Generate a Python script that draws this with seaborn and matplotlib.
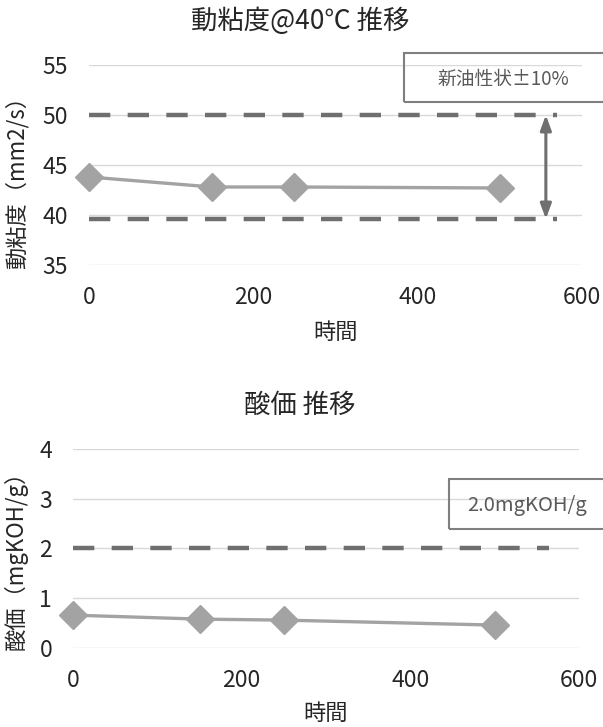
import numpy as np
import pandas as pd
import matplotlib
matplotlib.use("Agg")
import matplotlib.pyplot as plt
from matplotlib.patches import Rectangle
import seaborn as sns

# --- データ ---
hours = [0, 150, 250, 500]
viscosity = [43.8, 42.8, 42.8, 42.7]
acid_value = [0.66, 0.58, 0.56, 0.46]

visc_limits = [39.6, 50.0]     # 新油性状±10%
visc_limit_x = [0, 570]
acid_limit = 2.0
acid_limit_x = [0, 565]
arrow_x = 556

visc_ticks = [35, 40, 45, 50, 55]
acid_ticks = [0, 1, 2, 3, 4]
hour_ticks = [0, 200, 400, 600]

sns.set_style("white")
plt.rcParams['font.family'] = ['Noto Sans CJK JP', 'DejaVu Sans']

LINE_C = "#a3a3a3"
DASH_C = "#6f6f6f"
GRID_C = "#d9d9d9"
TEXT_C = "#262626"

fig = plt.figure(figsize=(6.03, 7.27), dpi=100)
ax1 = fig.add_axes([0.1476, 0.6355, 0.8176, 0.2751])
ax2 = fig.add_axes([0.1211, 0.1087, 0.8391, 0.2737])


def style_axis(ax, yticks):
    ax.set_xlim(0, 600)
    ax.set_ylim(yticks[0], yticks[-1])
    ax.set_xticks(hour_ticks)
    ax.set_yticks(yticks)
    ax.grid(axis="y", color=GRID_C, lw=1.0)
    ax.grid(axis="x", visible=False)
    for s in ax.spines.values():
        s.set_visible(False)
    ax.tick_params(axis="both", length=0, labelsize=16.5, colors=TEXT_C)
    ax.tick_params(axis="y", pad=15)
    ax.tick_params(axis="x", pad=15)
    ax.set_axisbelow(True)


def draw_series(ax, y):
    df = pd.DataFrame({"時間": hours, "値": y})
    sns.lineplot(data=df, x="時間", y="値", ax=ax, color=LINE_C, lw=2.4,
                 marker="D", markersize=14, markeredgecolor=LINE_C,
                 markeredgewidth=1, zorder=5, clip_on=False)


# ---------- 動粘度 ----------
style_axis(ax1, visc_ticks)
for lim in visc_limits:
    ax1.plot(visc_limit_x, [lim, lim], color=DASH_C, lw=3.2,
             dashes=(4.8, 3.9), dash_capstyle="butt", zorder=3)
draw_series(ax1, viscosity)
ax1.annotate("", xy=(arrow_x, visc_limits[0]), xytext=(arrow_x, visc_limits[1]),
             arrowprops=dict(arrowstyle="<|-|>,head_length=0.9,head_width=0.33",
                             color=DASH_C, lw=2.2, shrinkA=0, shrinkB=0), zorder=6)
ax1.set_xlabel("時間", fontsize=16, color=TEXT_C)
ax1.set_ylabel("動粘度（mm2/s）", fontsize=16, color=TEXT_C)
ax1.xaxis.set_label_coords(0.5, -0.28)
ax1.yaxis.set_label_coords(-0.122, 0.44)

# ---------- 酸価 ----------
style_axis(ax2, acid_ticks)
ax2.plot(acid_limit_x, [acid_limit, acid_limit], color=DASH_C, lw=3.2,
         dashes=(4.8, 3.9), dash_capstyle="butt", zorder=3)
draw_series(ax2, acid_value)
ax2.set_xlabel("時間", fontsize=16, color=TEXT_C)
ax2.set_ylabel("酸価（mgKOH/g）", fontsize=16, color=TEXT_C)
ax2.xaxis.set_label_coords(0.5, -0.27)
ax2.yaxis.set_label_coords(-0.089, 0.467)

# タイトル
fig.text(0.4975, 1 - 21 / 727, "動粘度@40℃ 推移", ha="center", va="center",
         fontsize=19, color=TEXT_C)
fig.text(0.4975, 1 - 405 / 727, "酸価 推移", ha="center", va="center",
         fontsize=19, color=TEXT_C)

# 注記ボックス
fig.patches.append(Rectangle((404 / 603, 1 - 102 / 727), 0.4, 49 / 727,
                             transform=fig.transFigure, fill=False,
                             edgecolor="#7f7f7f", lw=1.5, clip_on=False))
fig.text(503 / 603, 1 - 79 / 727, "新油性状±10%", ha="center", va="center",
         fontsize=13.5, color="#595959")
fig.patches.append(Rectangle((449 / 603, 1 - 529 / 727), 0.4, 50 / 727,
                             transform=fig.transFigure, fill=False,
                             edgecolor="#7f7f7f", lw=1.5, clip_on=False))
fig.text(527 / 603, 1 - 506 / 727, "2.0mgKOH/g", ha="center", va="center",
         fontsize=14.5, color="#595959")

fig.savefig("out.png", dpi=100)
